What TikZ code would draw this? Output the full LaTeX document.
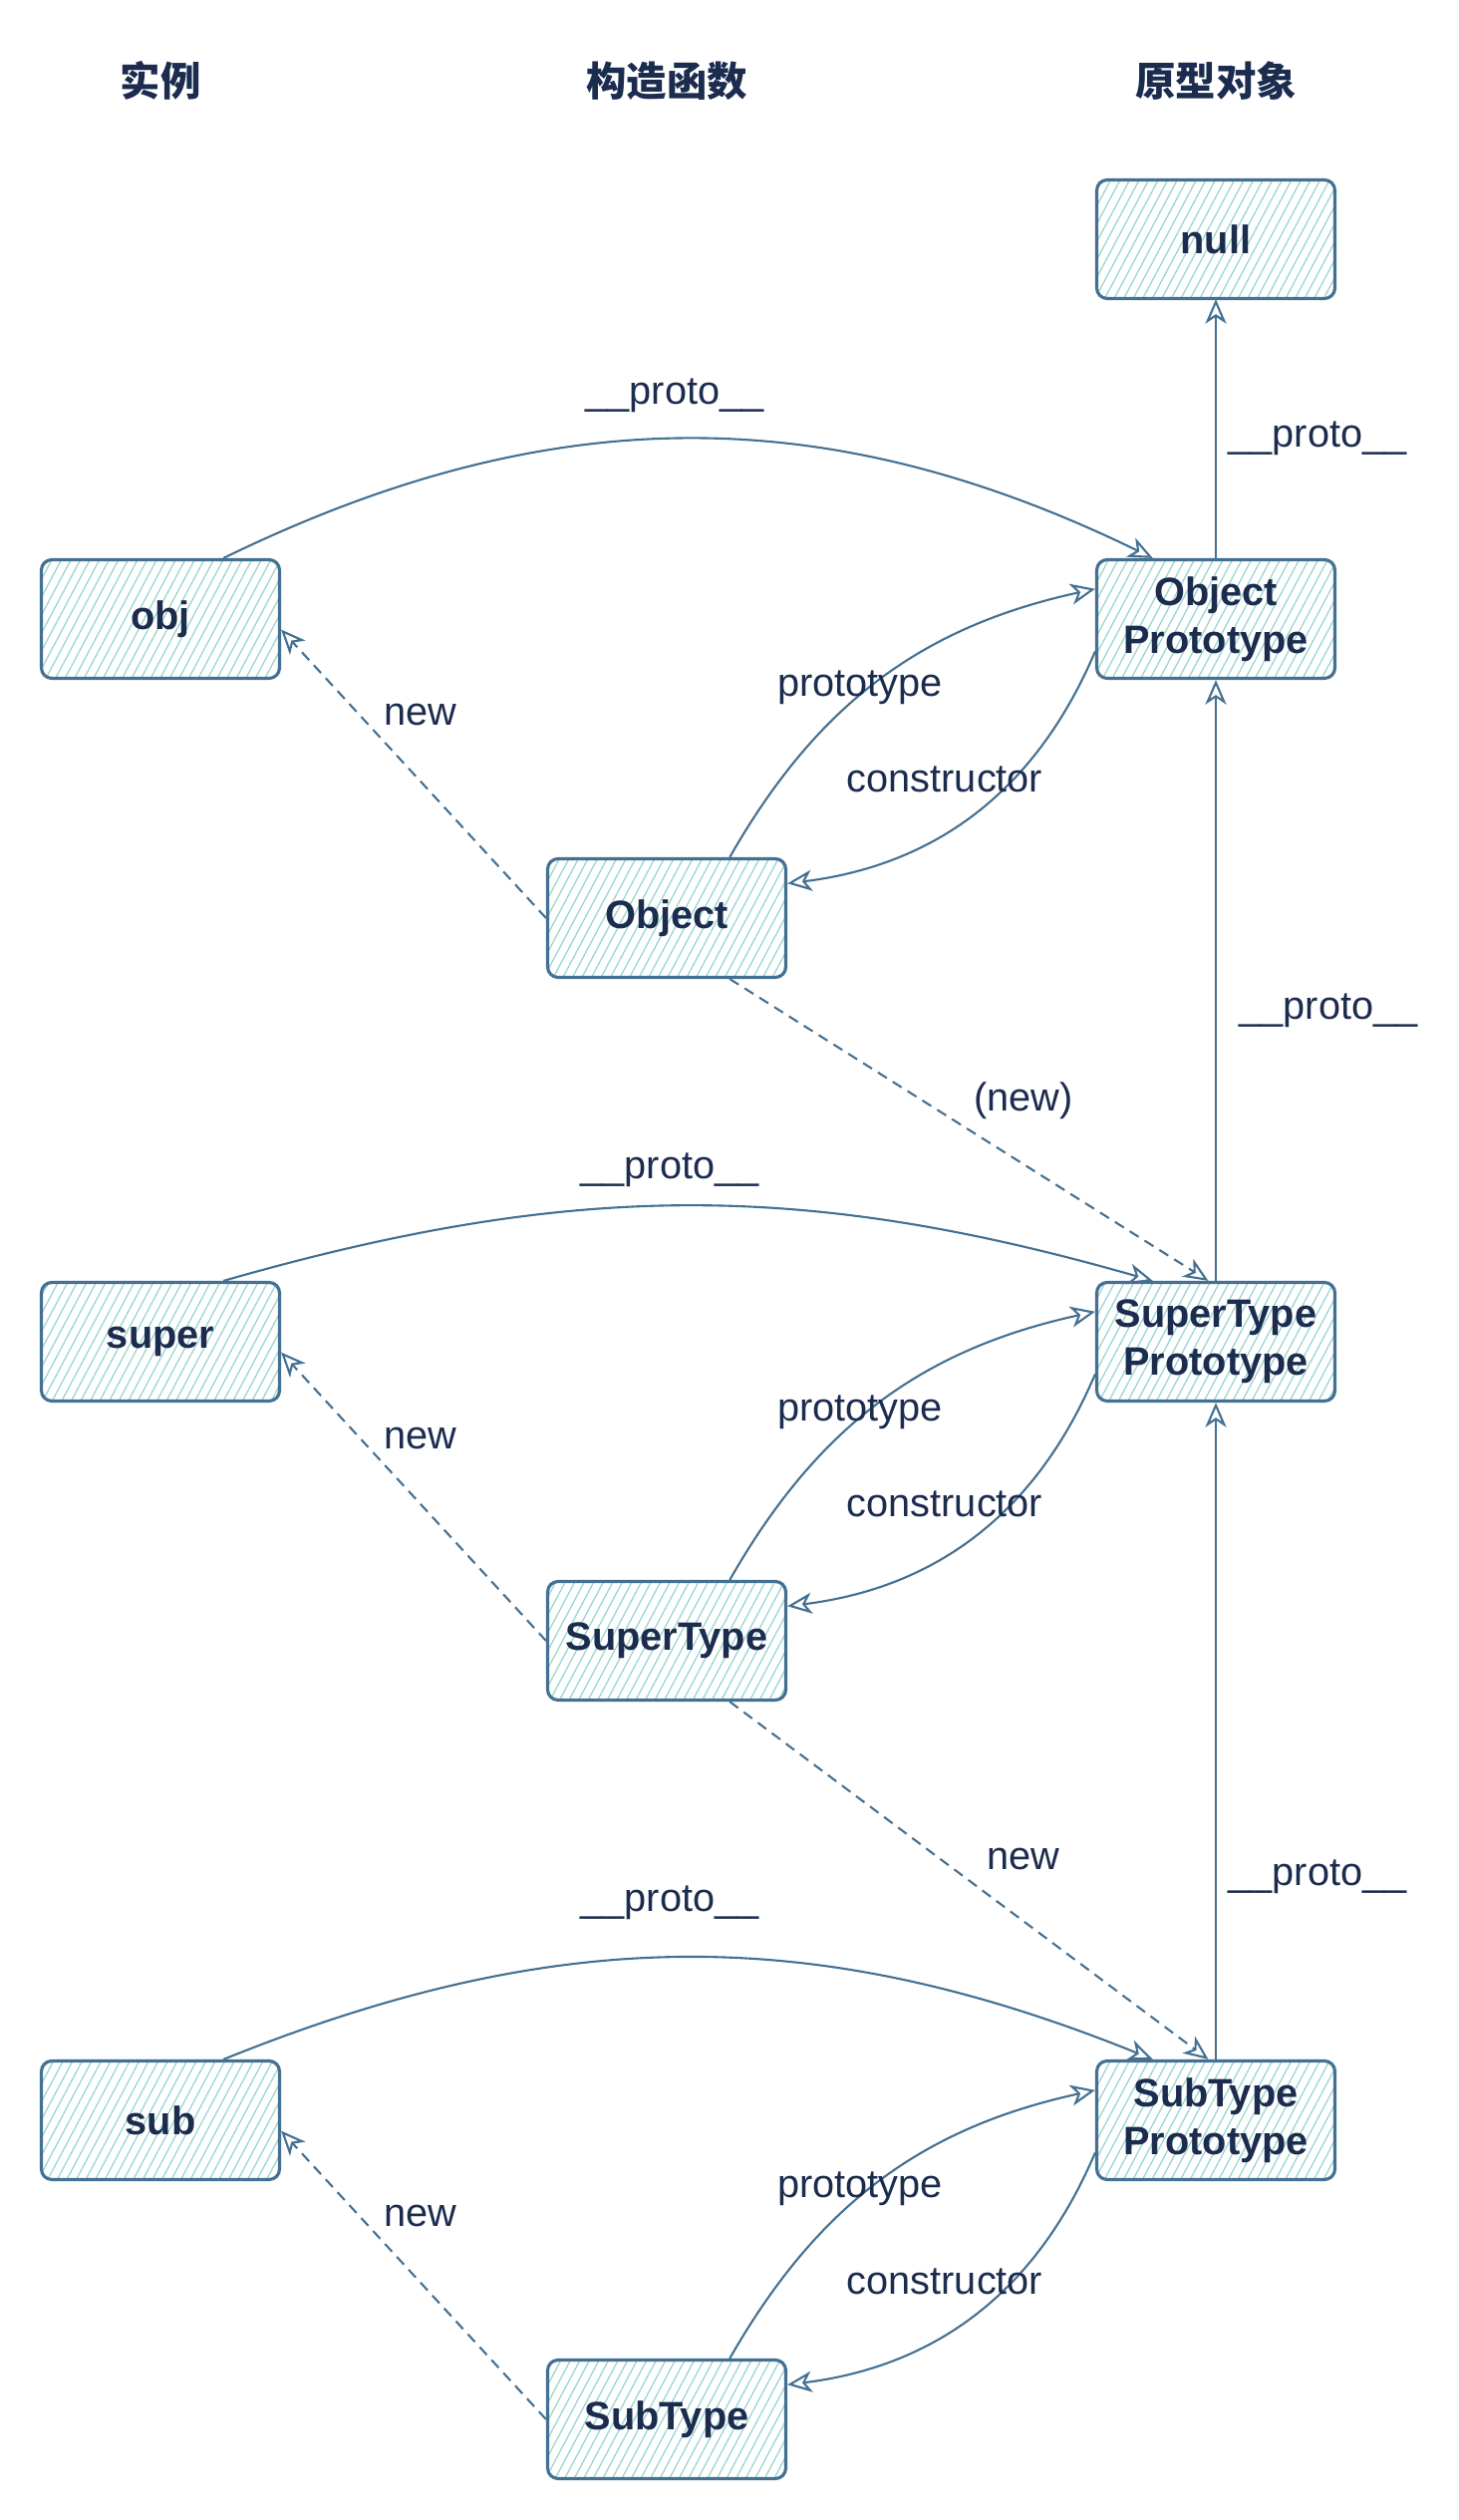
\documentclass[tikz,border=0pt]{standalone}
\usepackage{fontspec}
\setmainfont{Liberation Sans}
\newfontfamily\cjk{Noto Sans CJK SC}
\usetikzlibrary{arrows.meta,patterns.meta}
\definecolor{edgeblue}{RGB}{68,112,146}
\definecolor{inkblue}{RGB}{27,44,78}
\definecolor{hatchteal}{RGB}{150,212,206}
\tikzset{
  obox/.style={draw=edgeblue, line width=0.9pt, rounded corners=3pt,
               minimum width=2.39cm, minimum height=1.19cm,
               inner sep=2pt, align=center,
               pattern={Lines[angle=62,distance=2.4pt,line width=0.35pt]},
               pattern color=hatchteal, text=inkblue,
               font=\fontsize{11.3}{13.6}\selectfont\bfseries},
  head/.style={text=inkblue, font=\cjk\bfseries\fontsize{11.5}{13}\selectfont},
  lab/.style={text=inkblue, font=\fontsize{11.3}{13.6}\selectfont},
  link/.style={draw=edgeblue, line width=0.6pt,
               -{Stealth[open,length=7pt,width=6pt,inset=2pt]}},
  newlink/.style={link, dash pattern=on 3pt off 2pt},
}

\begin{document}
\begin{tikzpicture}[x=1cm,y=1cm]
  \path[use as bounding box] (0,0) rectangle (14.64,25.28);

  % column heads
  \node[head] (hInst) at (1.61,24.47) {实例};
  \node[head] (hCtor) at (6.69,24.47) {构造函数};
  \node[head] (hProto) at (12.20,24.47) {原型对象};

  % boxes
  \node[obox] (null) at (12.20,22.88) {null};
  \node[obox] (objProto) at (12.20,19.07) {Object\\Prototype};
  \node[obox] (obj) at (1.61,19.07) {obj};
  \node[obox] (objCtor) at (6.69,16.07) {Object};
  \node[obox] (superProto) at (12.20,11.82) {SuperType\\Prototype};
  \node[obox] (super) at (1.61,11.82) {super};
  \node[obox] (superCtor) at (6.69,8.82) {SuperType};
  \node[obox] (subProto) at (12.20,4.01) {SubType\\Prototype};
  \node[obox] (sub) at (1.61,4.01) {sub};
  \node[obox] (subCtor) at (6.69,1.01) {SubType};

  % Object row
  \draw[link] (objProto.north) -- (null.south);
  \draw[link] (obj.44) to[bend left=26] (objProto.136);
  \draw[link] (objCtor.44) to[bend left=24] (objProto.166);
  \draw[link] (objProto.195) to[bend left=30] (objCtor.16);
  \draw[newlink] (objCtor.west) -- (obj.-5);
  \node[lab] (lNull) at (13.22,20.88) {\_\_proto\_\_};
  \node[lab] (lObj) at (6.77,21.31) {\_\_proto\_\_};
  \node[lab] (lObjPt) at (8.63,18.38) {prototype};
  \node[lab] (lObjCt) at (9.48,17.46) {constructor};
  \node[lab] (lObjNew) at (4.22,18.11) {new};

  % SuperType row
  \draw[newlink] (objCtor.-44) -- (superProto.97);
  \draw[link] (superProto.north) -- (objProto.south);
  \draw[link] (super.44) to[bend left=16] (superProto.136);
  \draw[link] (superCtor.44) to[bend left=24] (superProto.166);
  \draw[link] (superProto.195) to[bend left=30] (superCtor.16);
  \draw[newlink] (superCtor.west) -- (super.-5);
  \node[lab] (lObjSup) at (10.27,14.24) {(new)};
  \node[lab] (lSupUp) at (13.33,15.14) {\_\_proto\_\_};
  \node[lab] (lSup) at (6.72,13.54) {\_\_proto\_\_};
  \node[lab] (lSupPt) at (8.63,11.11) {prototype};
  \node[lab] (lSupCt) at (9.48,10.19) {constructor};
  \node[lab] (lSupNew) at (4.22,10.85) {new};

  % SubType row
  \draw[newlink] (superCtor.-44) -- (subProto.97);
  \draw[link] (subProto.north) -- (superProto.south);
  \draw[link] (sub.44) to[bend left=22] (subProto.136);
  \draw[link] (subCtor.44) to[bend left=24] (subProto.166);
  \draw[link] (subProto.195) to[bend left=30] (subCtor.16);
  \draw[newlink] (subCtor.west) -- (sub.-5);
  \node[lab] (lSupSub) at (10.27,6.63) {new};
  \node[lab] (lSubUp) at (13.22,6.45) {\_\_proto\_\_};
  \node[lab] (lSub) at (6.72,6.19) {\_\_proto\_\_};
  \node[lab] (lSubPt) at (8.63,3.32) {prototype};
  \node[lab] (lSubCt) at (9.48,2.39) {constructor};
  \node[lab] (lSubNew) at (4.22,3.05) {new};
\end{tikzpicture}
\end{document}
